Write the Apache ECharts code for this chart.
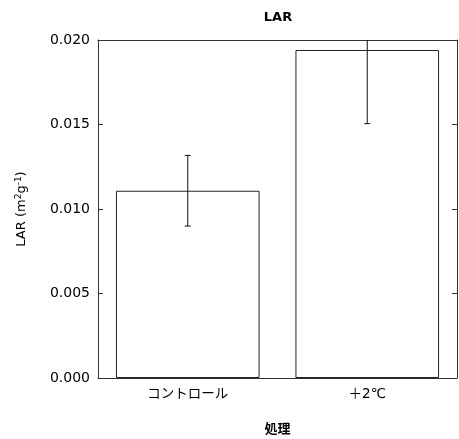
<!DOCTYPE html>
<html>
<head>
<meta charset="utf-8">
<script src="https://cdn.jsdelivr.net/npm/echarts@6/dist/echarts.min.js"></script>
<style>
  html, body { margin: 0; padding: 0; background: #fff; overflow: hidden; }
  #chart { width: 459px; height: 439px; }
</style>
</head>
<body>
<div id="chart"></div>
<script>
// Treatments and LAR means with their error (± one deviation)
var categories = ['コントロール', '＋2℃'];
var meanValues = [0.01108, 0.01941];
var errValues = [0.00209, 0.00436];
var yTicks = [0, 0.005, 0.010, 0.015, 0.020];

var FONT = '"DejaVu Sans", "Noto Sans CJK JP", sans-serif';
var AXIS_COLOR = '#333';

var errorData = categories.map(function (c, i) {
  return [i, meanValues[i] - errValues[i], meanValues[i] + errValues[i]];
});

var chart = echarts.init(document.getElementById('chart'));

chart.setOption({
  animation: false,
  backgroundColor: '#fff',
  title: {
    text: 'LAR',
    left: 278,
    textAlign: 'center',
    top: 11,
    padding: 0,
    textStyle: { fontFamily: FONT, fontSize: 13, fontWeight: 'bold', color: '#000' }
  },
  grid: { left: 98, right: 2, top: 40, bottom: 61, outerBoundsMode: 'none', containLabel: false },
  xAxis: [{
    type: 'category',
    data: categories,
    position: 'bottom',
    name: '処理',
    nameLocation: 'middle',
    nameGap: 45,
    nameTextStyle: { fontFamily: FONT, fontSize: 13, fontWeight: 'bold', color: '#000' },
    axisLine: { onZero: false, lineStyle: { color: AXIS_COLOR, width: 1 } },
    axisTick: { inside: true, length: 5, lineStyle: { color: AXIS_COLOR } },
    axisLabel: { margin: 10, fontFamily: FONT, fontSize: 13.5, color: '#000' },
    splitLine: { show: false }
  }, {
    type: 'category',
    data: categories,
    position: 'top',
    axisLine: { onZero: false, lineStyle: { color: AXIS_COLOR, width: 1 } },
    axisTick: { inside: true, length: 5, lineStyle: { color: AXIS_COLOR } },
    axisLabel: { show: false },
    splitLine: { show: false }
  }],
  yAxis: [{
    type: 'value',
    min: yTicks[0],
    max: yTicks[yTicks.length - 1],
    interval: yTicks[1] - yTicks[0],
    position: 'left',
    name: '{n|LAR (m}{s|2}{n|g}{s|-1}{n|)}',
    nameLocation: 'middle',
    nameGap: 68,
    nameRotate: 90,
    nameTextStyle: {
      fontFamily: FONT, fontSize: 13, color: '#000',
      rich: {
        n: { fontFamily: FONT, fontSize: 13, color: '#000' },
        s: { fontFamily: FONT, fontSize: 9, color: '#000', padding: [0, 0, 7, 0] }
      }
    },
    axisLine: { show: true, onZero: false, lineStyle: { color: AXIS_COLOR, width: 1 } },
    axisTick: { show: true, inside: true, length: 5, lineStyle: { color: AXIS_COLOR } },
    axisLabel: {
      margin: 8, fontFamily: FONT, fontSize: 14, color: '#000',
      formatter: function (v) { return v.toFixed(3); }
    },
    splitLine: { show: false }
  }, {
    type: 'value',
    min: yTicks[0],
    max: yTicks[yTicks.length - 1],
    interval: yTicks[1] - yTicks[0],
    position: 'right',
    axisLine: { show: true, onZero: false, lineStyle: { color: AXIS_COLOR, width: 1 } },
    axisTick: { show: true, inside: true, length: 5, lineStyle: { color: AXIS_COLOR } },
    axisLabel: { show: false },
    splitLine: { show: false }
  }],
  series: [{
    type: 'bar',
    data: meanValues,
    barWidth: '80%',
    itemStyle: { color: '#fff', borderColor: '#222', borderWidth: 1 },
    z: 2
  }, {
    type: 'custom',
    data: errorData,
    clip: true,
    z: 3,
    renderItem: function (params, api) {
      var i = api.value(0);
      var lo = api.coord([i, api.value(1)]);
      var hi = api.coord([i, api.value(2)]);
      var cap = 3;
      var style = { stroke: '#111', lineWidth: 1 };
      return {
        type: 'group',
        children: [
          { type: 'line', shape: { x1: lo[0], y1: lo[1], x2: hi[0], y2: hi[1] }, style: style },
          { type: 'line', shape: { x1: lo[0] - cap, y1: lo[1], x2: lo[0] + cap, y2: lo[1] }, style: style },
          { type: 'line', shape: { x1: hi[0] - cap, y1: hi[1], x2: hi[0] + cap, y2: hi[1] }, style: style }
        ]
      };
    }
  }]
});
</script>
</body>
</html>
